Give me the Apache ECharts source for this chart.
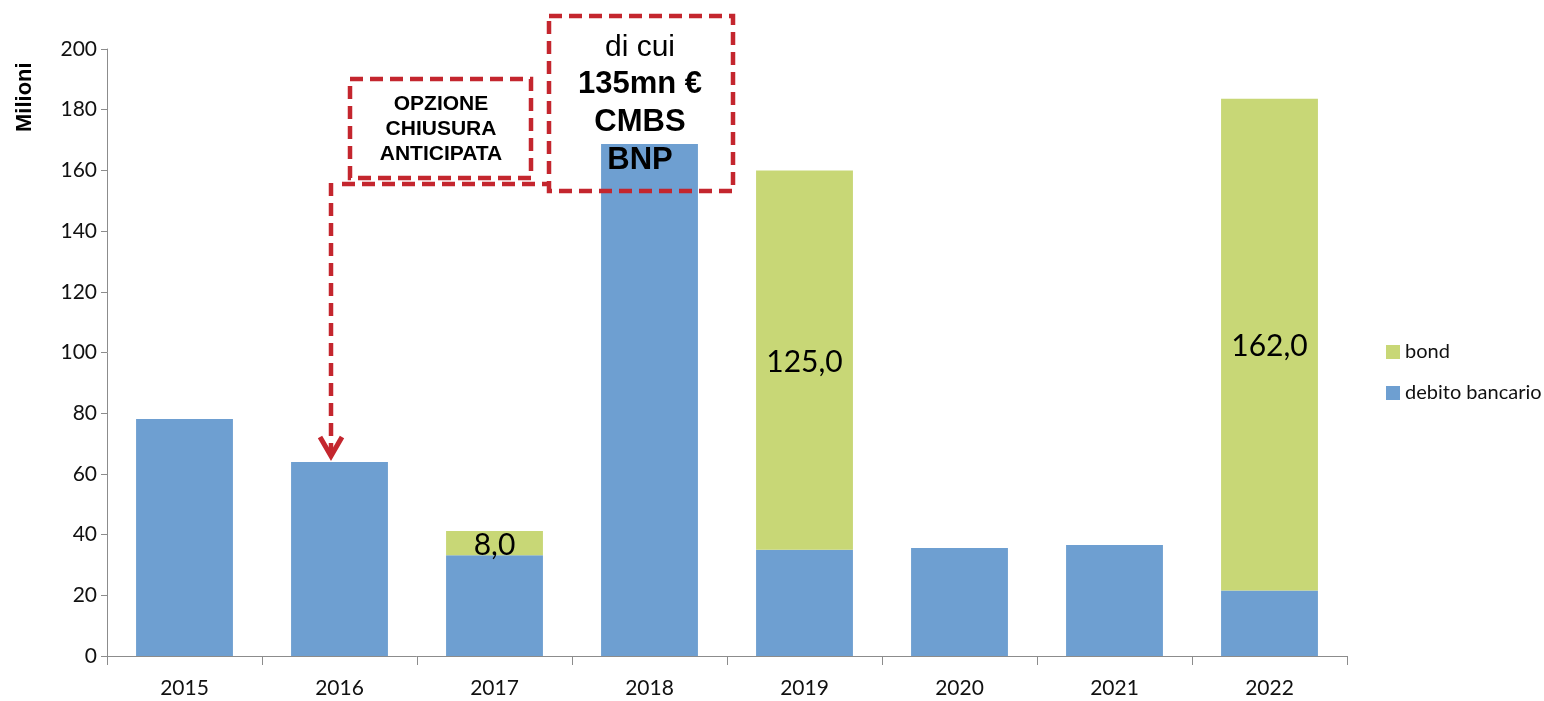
<!DOCTYPE html>
<html>
<head>
<meta charset="utf-8">
<script src="https://cdn.jsdelivr.net/npm/echarts@6/dist/echarts.min.js"></script>
<style>html,body{margin:0;padding:0;background:#fff}#c{width:1544px;height:701px}</style>
</head>
<body>
<div id="c"></div>
<script>
var years = ['2015','2016','2017','2018','2019','2020','2021','2022'];
var debito = [78.1, 63.9, 33.2, 168.7, 35.0, 35.6, 36.6, 21.6];
var bond = [0, 0, 8.0, 0, 125.0, 0, 0, 162.0];
var yTicks = {min: 0, max: 200, interval: 20};

var RED = '#C4262E';
var FONT = 'Lato, "Liberation Sans", sans-serif';
var ARIAL = '"Liberation Sans", Arial, sans-serif';
var dash = {stroke: RED, lineWidth: 4.5, lineDash: [13, 7], fill: null};

var chart = echarts.init(document.getElementById('c'));
chart.setOption({
  animation: false,
  backgroundColor: '#fff',
  grid: {left: 107, right: 197, top: 49, bottom: 45, containLabel: false},
  legend: {
    orient: 'vertical', left: 1381, top: 337, itemWidth: 14, itemHeight: 14, itemGap: 21,
    icon: 'rect',
    textStyle: {fontFamily: FONT, fontSize: 20, color: '#111', padding: [0, 0, 0, 0]},
    data: ['bond', 'debito bancario']
  },
  xAxis: {
    type: 'category', data: years,
    axisLine: {lineStyle: {color: '#8c8c8c', width: 1}},
    axisTick: {show: true, length: 9, lineStyle: {color: '#8c8c8c'}},
    axisLabel: {fontFamily: FONT, fontSize: 21, color: '#111', margin: 22}
  },
  yAxis: {
    type: 'value', min: yTicks.min, max: yTicks.max, interval: yTicks.interval,
    axisLine: {show: true, lineStyle: {color: '#8c8c8c', width: 1}},
    axisTick: {show: true, length: 6, lineStyle: {color: '#8c8c8c'}},
    splitLine: {show: false},
    axisLabel: {fontFamily: FONT, fontSize: 21, color: '#111', margin: 10}
  },
  series: [
    {
      name: 'debito bancario', type: 'bar', stack: 't', data: debito, barWidth: '62.5%',
      itemStyle: {color: '#6E9FD1'}
    },
    {
      name: 'bond', type: 'bar', stack: 't', data: bond, barWidth: '62.5%',
      itemStyle: {color: '#C8D776'},
      label: {
        show: true, position: 'inside', fontFamily: FONT, fontSize: 30, color: '#000',
        offset: [0, 2],
        formatter: function (p) { return p.value ? p.value.toFixed(1).replace('.', ',') : ''; }
      }
    }
  ],
  graphic: [
    {type: 'text', x: 14, y: 132, rotation: Math.PI / 2,
     style: {text: 'Milioni', font: 'bold 22px ' + ARIAL, fill: '#000'}},
    {type: 'rect', shape: {x: 350, y: 79, width: 181, height: 99}, style: dash, z: 100},
    {type: 'polyline', shape: {points: [[342, 184], [548, 184]]}, style: dash, z: 100},
    {type: 'polyline', shape: {points: [[331, 183], [331, 452]]}, style: dash, z: 100},
    {type: 'polyline', shape: {points: [[320, 437], [331, 456], [342, 437]]},
     style: {stroke: RED, lineWidth: 5, fill: null, lineJoin: 'miter'}, z: 100},
    {type: 'rect', shape: {x: 549, y: 16, width: 184, height: 175}, style: dash, z: 100},
    {type: 'text', x: 441, y: 129, z: 101,
     style: {text: 'OPZIONE\nCHIUSURA\nANTICIPATA', align: 'center', verticalAlign: 'middle',
             font: 'bold 21px ' + ARIAL, lineHeight: 25, fill: '#000'}},
    {type: 'text', x: 640, y: 48, z: 101,
     style: {text: 'di cui', align: 'center', verticalAlign: 'middle',
             font: '30px ' + ARIAL, fill: '#000'}},
    {type: 'text', x: 640, y: 122, z: 101,
     style: {text: '135mn €\nCMBS\nBNP', align: 'center', verticalAlign: 'middle',
             font: 'bold 31px ' + ARIAL, lineHeight: 38, fill: '#000'}}
  ]
});
</script>
</body>
</html>
